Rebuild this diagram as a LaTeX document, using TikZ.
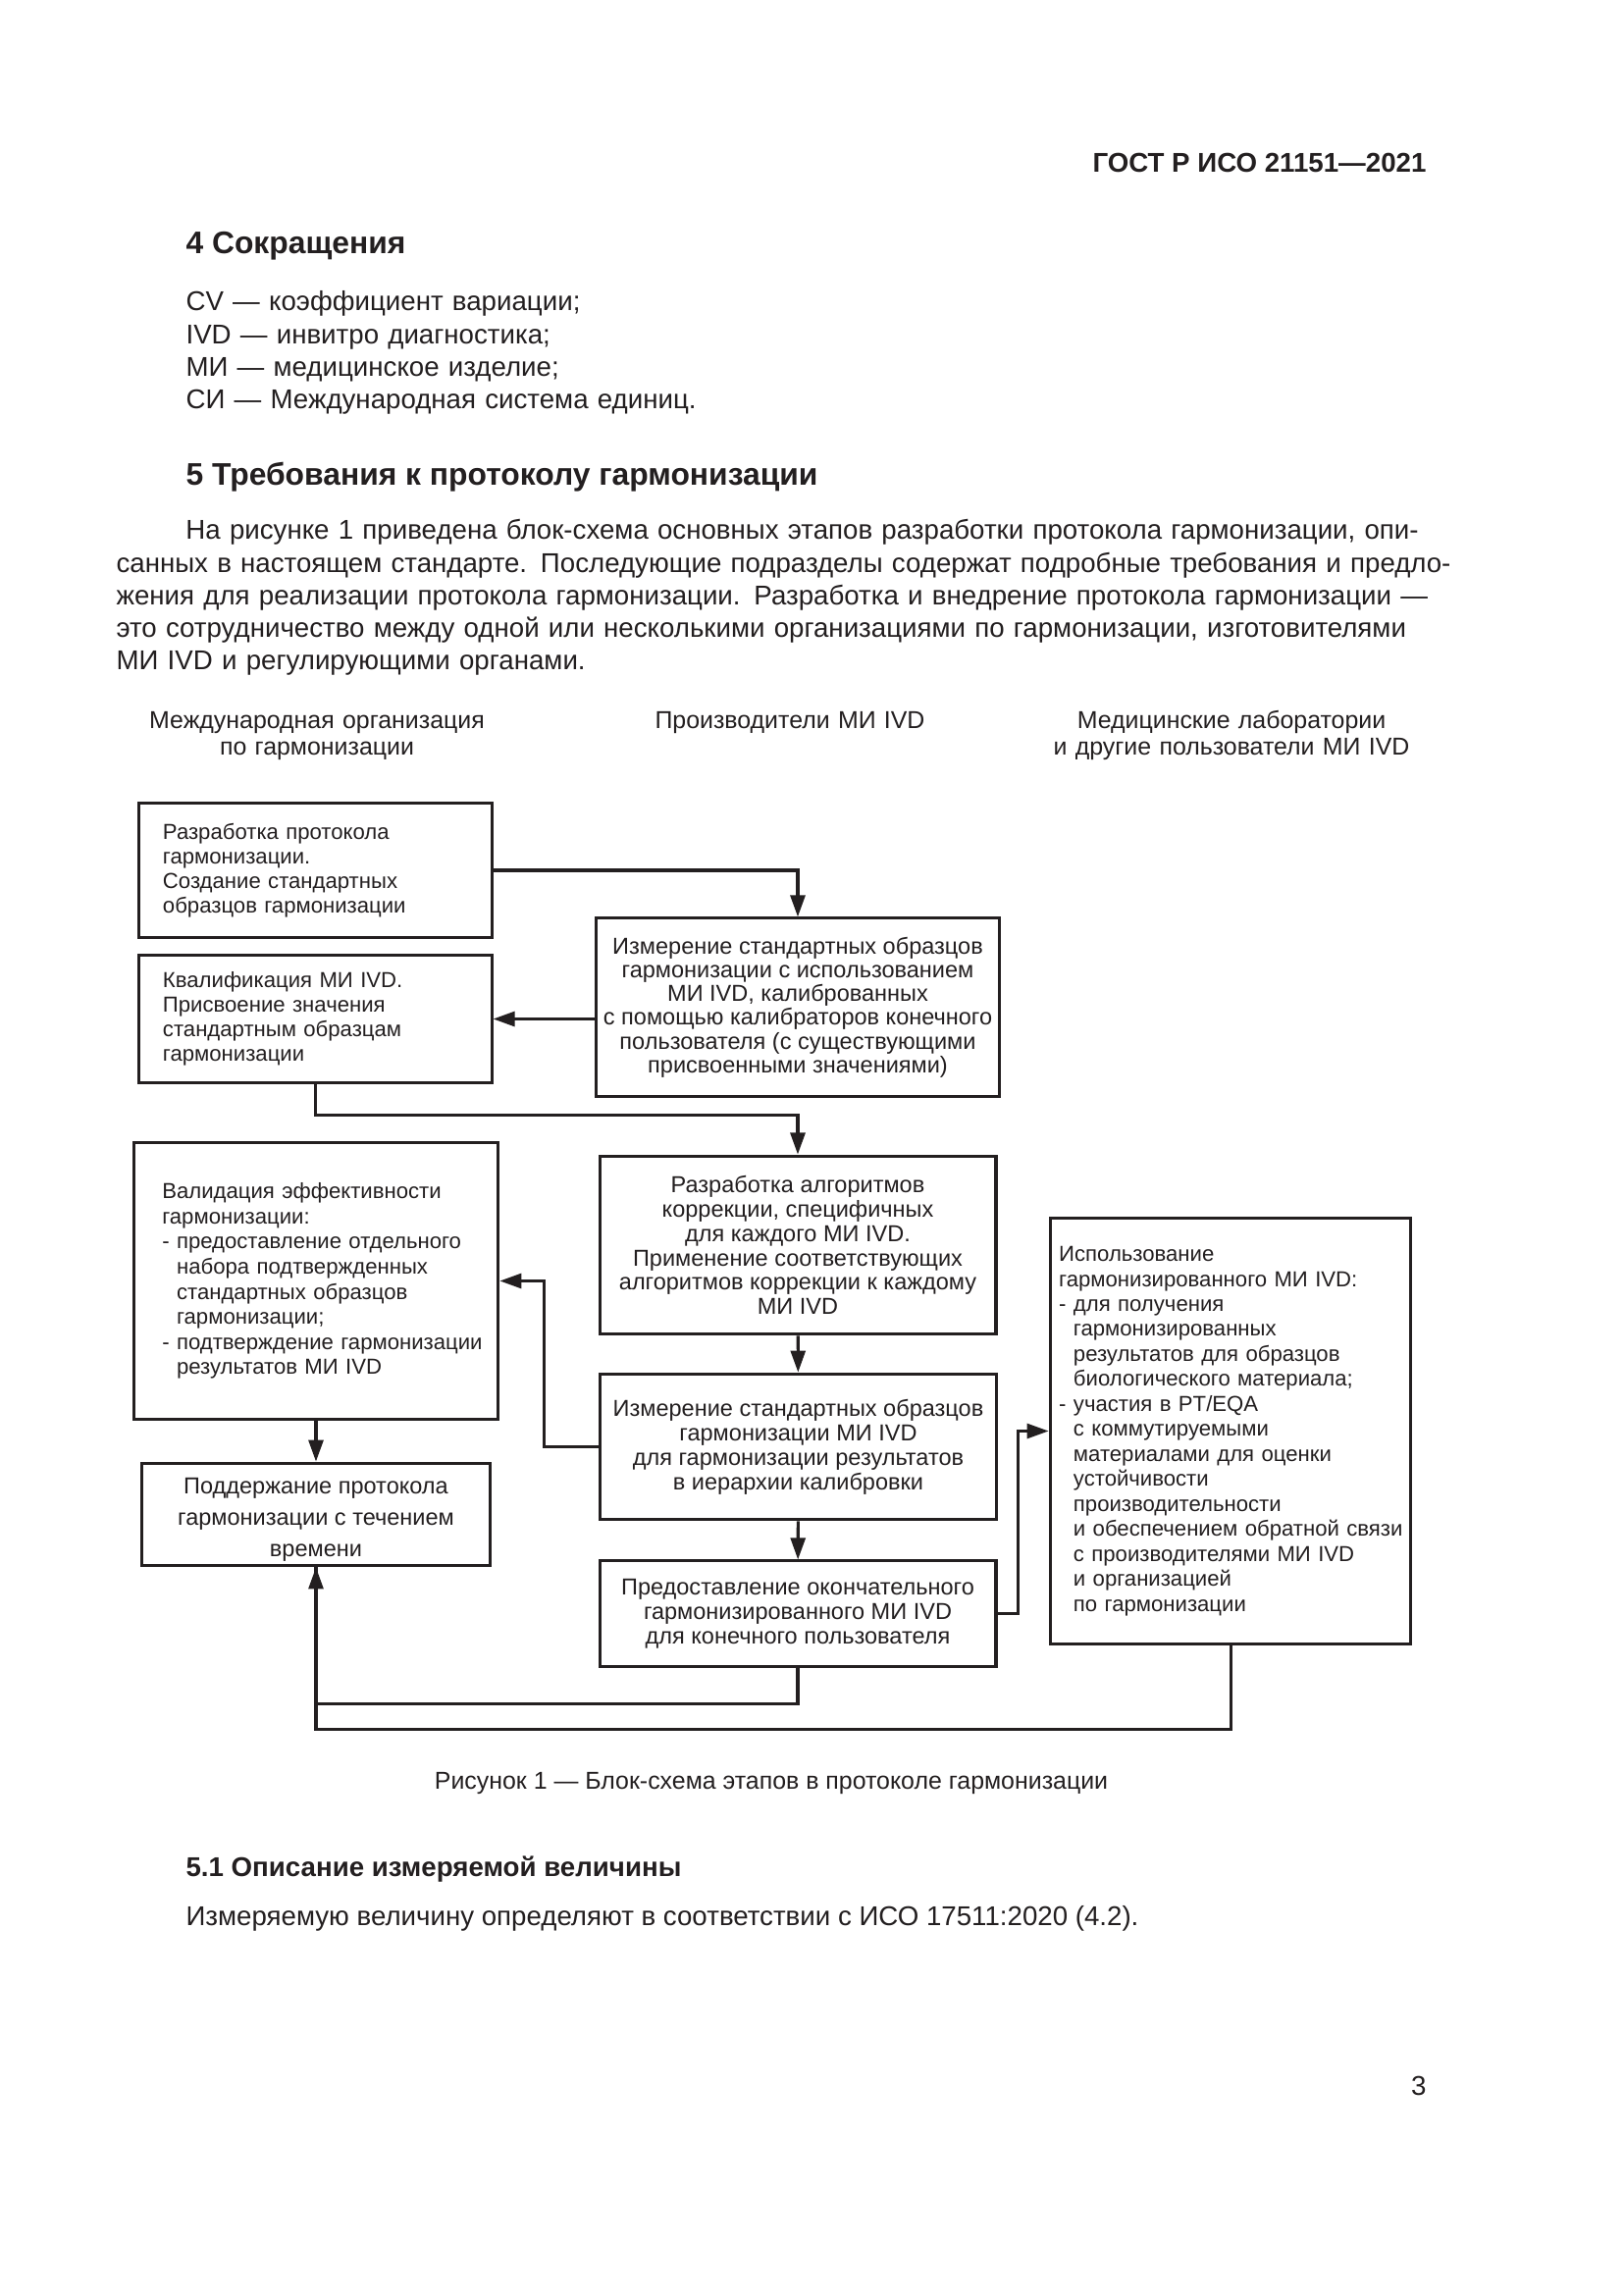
\documentclass[tikz,border=0pt]{standalone}
\usepackage{fontspec}
\setmainfont{Liberation Sans}
\usetikzlibrary{arrows.meta}
\definecolor{ink}{RGB}{35,31,32}
\newcommand\dashind{\leavevmode\hphantom{-~}}
\newcommand\inset[1]{\leftskip=#1\rightskip=-3mm plus 1fil\relax}
\tikzset{
  stage/.style={draw=ink, line width=1.1pt, inner sep=0pt, align=center, font=\fontsize{8.5}{9}\selectfont},
  leftstage/.style={stage, align=left, font=\fontsize{8}{9}\selectfont},
  flow/.style={draw=ink, line width=1.1pt, -{Triangle[length=2.8mm,width=1.9mm]}},
  link/.style={draw=ink, line width=1.1pt},
  colhead/.style={anchor=base, inner sep=0pt, text width=70mm, align=center, font=\fontsize{9}{10}\selectfont},
  pagetext/.style={anchor=base west, inner sep=0pt},
}
\begin{document}
\begin{tikzpicture}[x=0.127mm, y=-0.127mm, text=ink]
		\path[fill=white] (0,0) rectangle (1654,2339);
		\useasboundingbox (0,0) rectangle (1654,2339);
		% page text
		\node[anchor=base east, inner sep=0pt, font=\fontsize{10}{12}\selectfont\bfseries] (hdr) at (1454,176) {ГОСТ Р ИСО 21151—2021};
		\node[pagetext, font=\fontsize{11.5}{14}\selectfont\bfseries] (sec4) at (189,259) {4 Сокращения};
		\node[pagetext, text width=120mm, align=left, font=\fontsize{10}{12}\selectfont] (abbr) at (189,317)
			{CV — коэффициент вариации;\\ IVD — инвитро диагностика;\\ МИ — медицинское изделие;\\ СИ — Международная система единиц.};
		\node[pagetext, font=\fontsize{11.5}{14}\selectfont\bfseries] (sec5) at (189,495) {5 Требования к протоколу гармонизации};
		\node[pagetext, text width=169.67mm, align=left, font=\fontsize{10}{12}\selectfont] (para) at (118,550)
			{\hspace*{9mm}\makebox[160.65mm][s]{На рисунке 1 приведена блок-схема основных этапов разработки протокола гармонизации, опи-}\\
			\makebox[169.67mm][s]{санных в настоящем стандарте. Последующие подразделы содержат подробные требования и предло-}\\
			\makebox[169.67mm][s]{жения для реализации протокола гармонизации. Разработка и внедрение протокола гармонизации —}\\
			\makebox[169.67mm][s]{это сотрудничество между одной или несколькими организациями по гармонизации, изготовителями}\\
			МИ IVD и регулирующими органами.};
		% column heads
		\node[colhead] (colorg) at (323,742) {Международная организация\\ по гармонизации};
		\node[colhead] (colmaker) at (805,742) {Производители МИ IVD};
		\node[colhead] (collab) at (1255,742) {Медицинские лаборатории\\ и другие пользователи МИ IVD};
		% stages
		\node[leftstage, text width=45.6mm, minimum height=17.5mm] (dev) at (321.5,887)
			{\inset{3.05mm}Разработка протокола\\ гармонизации.\\ Создание стандартных\\ образцов гармонизации\par};
		\node[leftstage, text width=45.6mm, minimum height=16.6mm] (qual) at (321.5,1038.5)
			{\inset{3.05mm}Квалификация МИ IVD.\\ Присвоение значения\\ стандартным образцам\\ гармонизации\par};
		\node[stage, minimum width=52.3mm, minimum height=23mm, font=\fontsize{8.5}{8.75}\selectfont] (meas) at (813,1026.5)
			{Измерение стандартных образцов\\ гармонизации с использованием\\ МИ IVD, калиброванных\\ с помощью калибраторов конечного\\ пользователя (с существующими\\ присвоенными значениями)};
		\node[leftstage, text width=47.2mm, minimum height=35.7mm, font=\fontsize{8}{9.25}\selectfont] (valid) at (322,1305.5)
			{\inset{3.7mm}Валидация эффективности\\ гармонизации:\\ - предоставление отдельного\\ \dashind набора подтвержденных\\ \dashind стандартных образцов\\ \dashind гармонизации;\\ - подтверждение гармонизации\\ \dashind результатов МИ IVD\par};
		\node[stage, minimum width=51.3mm, minimum height=23.1mm] (algo) at (813,1269)
			{Разработка алгоритмов\\ коррекции, специфичных\\ для каждого МИ IVD.\\ Применение соответствующих\\ алгоритмов коррекции к каждому\\ МИ IVD};
		\node[stage, minimum width=51.2mm, minimum height=18.9mm] (meas2) at (813.5,1474.5)
			{Измерение стандартных образцов\\ гармонизации МИ IVD\\ для гармонизации результатов\\ в иерархии калибровки};
		\node[stage, minimum width=45mm, minimum height=13.3mm, font=\fontsize{8.5}{11.5}\selectfont] (keep) at (322,1543.5)
			{\rule{0pt}{9.7pt}Поддержание протокола\\ гармонизации с течением\\ времени};
		\node[stage, minimum width=51.3mm, minimum height=13.6mm] (final) at (813,1644.5)
			{Предоставление окончательного\\ гармонизированного МИ IVD\\ для конечного пользователя};
		\node[leftstage, text width=46.7mm, minimum height=55mm, font=\fontsize{8}{9.2}\selectfont] (use) at (1254,1458.5)
			{\inset{1.15mm}Использование\\ гармонизированного МИ IVD:\\ - для получения\\ \dashind гармонизированных\\ \dashind результатов для образцов\\ \dashind биологического материала;\\ - участия в PT/EQA\\ \dashind с коммутируемыми\\ \dashind материалами для оценки\\ \dashind устойчивости\\ \dashind производительности\\ \dashind и обеспечением обратной связи\\ \dashind с производителями МИ IVD\\ \dashind и организацией\\ \dashind по гармонизации\par};
		% connectors
		\draw[flow] (dev.east) -| (meas.north);
		\draw[flow] (meas.west |- qual.east) -- (qual.east);
		\draw[flow] (qual.south) -- ++(0,31) -| (algo.north);
		\draw[flow] (algo) -- (meas2);
		\draw[flow] (meas2.west) -- ++(-56,0) |- (valid.east);
		\draw[flow] (valid) -- (keep);
		\draw[flow] (meas2) -- (final);
		\draw[flow] (final.east) -- ++(21,0) |- (use.west);
		\draw[link] (final.south) -- ++(0,37) -| (keep.south);
		\draw[flow] (use.south) -- ++(0,86) -| (keep.south);
		% caption and text below
		\node[anchor=base, inner sep=0pt, font=\fontsize{9}{11}\selectfont] (caption) at (786,1823) {Рисунок 1 — Блок-схема этапов в протоколе гармонизации};
		\node[pagetext, font=\fontsize{10}{12}\selectfont\bfseries] (sec51) at (189,1912) {5.1 Описание измеряемой величины};
		\node[pagetext, font=\fontsize{10}{12}\selectfont] (text51) at (189,1962) {Измеряемую величину определяют в соответствии с ИСО 17511:2020 (4.2).};
		\node[anchor=base east, inner sep=0pt, font=\fontsize{10}{12}\selectfont] (pagenum) at (1454,2135) {3};
		\end{tikzpicture}
\end{document}
